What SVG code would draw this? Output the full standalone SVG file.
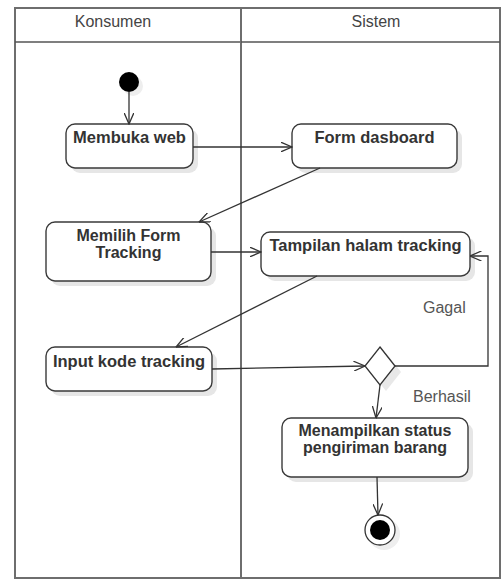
<svg xmlns="http://www.w3.org/2000/svg" width="502" height="579" viewBox="0 0 502 579">
  <style>
    .lane { fill: #ffffff; stroke: #6e6e6e; stroke-width: 2; }
    .lane-title { font-family: "Liberation Sans", Arial, sans-serif; font-size: 16px; fill: #444444; text-anchor: middle; }
    .action { fill: #ffffff; stroke: #3a3a3a; stroke-width: 1.4; }
    .shadow { fill: #e6e6e6; stroke: none; }
    .label { font-family: "Liberation Sans", Arial, sans-serif; font-size: 16.5px; font-weight: bold; fill: #333333; text-anchor: middle; }
    .label2 { font-size: 16px; }
    .guard { font-family: "Liberation Sans", Arial, sans-serif; font-size: 16px; fill: #555555; }
    .flow { fill: none; stroke: #333333; stroke-width: 1.3; marker-end: url(#open-arrow); }
  </style>
  <defs>
    <marker id="open-arrow" viewBox="0 0 12 10" refX="11.5" refY="5" markerWidth="12" markerHeight="10" markerUnits="userSpaceOnUse" orient="auto">
      <path d="M0,0 L11.5,5 L0,10" fill="none" stroke="#333333" stroke-width="1.3"/>
    </marker>
  </defs>

  <rect width="502" height="579" fill="#ffffff"/>

  <!-- swimlanes -->
  <g id="lane-konsumen">
    <rect class="lane" x="15" y="8" width="226" height="570"/>
    <line x1="15" y1="42" x2="241" y2="42" stroke="#555555" stroke-width="1.5"/>
    <text class="lane-title" x="113" y="27">Konsumen</text>
  </g>
  <g id="lane-sistem">
    <rect class="lane" x="241" y="8" width="259" height="570"/>
    <line x1="241" y1="42" x2="500" y2="42" stroke="#555555" stroke-width="1.5"/>
    <text class="lane-title" x="376" y="27">Sistem</text>
  </g>

  <!-- start -->
  <g id="start">
    <circle cx="133" cy="86" r="10" fill="#eeeeee"/>
    <circle cx="129" cy="82" r="10" fill="#000000"/>
  </g>

  <g id="membuka-web">
    <rect class="shadow" x="71" y="129" width="127" height="44" rx="9"/>
    <rect class="action" x="66" y="124" width="127" height="44" rx="9"/>
    <text class="label" x="129.5" y="143">Membuka web</text>
  </g>

  <g id="form-dasboard">
    <rect class="shadow" x="297" y="129" width="165" height="44" rx="9"/>
    <rect class="action" x="292" y="124" width="165" height="44" rx="9"/>
    <text class="label" x="374.5" y="143">Form dasboard</text>
  </g>

  <g id="memilih-form">
    <rect class="shadow" x="51" y="227" width="165" height="59" rx="9"/>
    <rect class="action" x="46" y="222" width="165" height="59" rx="9"/>
    <text class="label label2" x="128.5" y="241">Memilih Form</text>
    <text class="label label2" x="128.5" y="258">Tracking</text>
  </g>

  <g id="tampilan-tracking">
    <rect class="shadow" x="266" y="237" width="209" height="44" rx="9"/>
    <rect class="action" x="261" y="232" width="209" height="44" rx="9"/>
    <text class="label" x="365.5" y="251">Tampilan halam tracking</text>
  </g>

  <g id="input-kode">
    <rect class="shadow" x="51" y="352" width="166" height="44" rx="9"/>
    <rect class="action" x="46" y="347" width="166" height="44" rx="9"/>
    <text class="label" x="129" y="367">Input kode tracking</text>
  </g>

  <g id="decision">
    <polygon points="386,353 401,372 386,391 371,372" fill="#e8e8e8"/>
    <polygon points="380,347 395,366 380,385 365,366" fill="#ffffff" stroke="#333333" stroke-width="1.3"/>
  </g>

  <g id="menampilkan-status">
    <rect class="shadow" x="287" y="423" width="186" height="59" rx="9"/>
    <rect class="action" x="282" y="418" width="186" height="59" rx="9"/>
    <text class="label label2" x="375" y="436">Menampilkan status</text>
    <text class="label label2" x="375" y="453">pengiriman barang</text>
  </g>

  <g id="end">
    <circle cx="384" cy="534" r="16" fill="#eeeeee"/>
    <circle cx="380" cy="530" r="15" fill="#ffffff" stroke="#333333" stroke-width="1.3"/>
    <circle cx="380" cy="530" r="10" fill="#000000"/>
  </g>

  <!-- control flows -->
  <g id="flows">
    <line class="flow" x1="129" y1="92" x2="129" y2="124"/>
    <line class="flow" x1="193" y1="147" x2="292" y2="147"/>
    <line class="flow" x1="320" y1="168" x2="199" y2="222"/>
    <line class="flow" x1="211" y1="252" x2="261" y2="252"/>
    <line class="flow" x1="317" y1="276" x2="176" y2="347"/>
    <line class="flow" x1="212" y1="369" x2="365" y2="366"/>
    <polyline class="flow" points="395,366 488,366 488,256 470,256"/>
    <line class="flow" x1="380" y1="385" x2="376" y2="418"/>
    <line class="flow" x1="377" y1="477" x2="378" y2="515"/>
  </g>

  <text class="guard" x="423" y="313">Gagal</text>
  <text class="guard" x="413" y="402">Berhasil</text>
</svg>
